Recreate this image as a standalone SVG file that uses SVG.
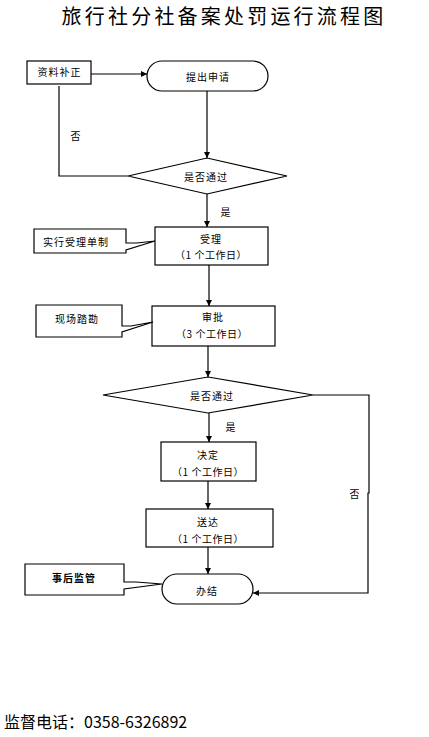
<svg xmlns="http://www.w3.org/2000/svg" width="429" height="737" viewBox="0 0 429 737">
<style>
.s{fill:#fff;stroke:#000;stroke-width:1.2}
.t{font-family:"Noto Sans CJK SC","Liberation Sans",sans-serif;font-size:10px;fill:#000;text-anchor:middle;letter-spacing:1px}
.c{fill:none;stroke:#000;stroke-width:1.2}
</style>
<defs>
<marker id="a" viewBox="0 0 10 10" refX="10" refY="5" markerWidth="6" markerHeight="6" markerUnits="userSpaceOnUse" orient="auto">
<path d="M0,0 L10,5 L0,10 Z" fill="#000"/>
</marker>
</defs>
<rect width="429" height="737" fill="#fff"/>
<text x="224" y="24" style="font-family:'Noto Sans CJK SC','Liberation Sans',sans-serif;font-size:20px;letter-spacing:3.2px;text-anchor:middle;fill:#000">旅行社分社备案处罚运行流程图</text>

<g id="connectors">
<path class="c" d="M91,74 H147" marker-end="url(#a)"/>
<path class="c" d="M207,91 V158" marker-end="url(#a)"/>
<path class="c" d="M59,86 V176 H128"/>
<path class="c" d="M207,194 V227" marker-end="url(#a)"/>
<path class="c" d="M209,265 V306" marker-end="url(#a)"/>
<path class="c" d="M208,346 V377" marker-end="url(#a)"/>
<path class="c" d="M209,413 V442" marker-end="url(#a)"/>
<path class="c" d="M208,481 V509" marker-end="url(#a)"/>
<path class="c" d="M208,547 V574" marker-end="url(#a)"/>
<path class="c" d="M313,395 H369 V493 H368 V593 H253" marker-end="url(#a)"/>
<text class="t" x="76" y="140">否</text>
<text class="t" x="226" y="216">是</text>
<text class="t" x="231" y="431">是</text>
<text class="t" x="355" y="498">否</text>
</g>

<g id="n-buzheng">
<rect class="s" x="27" y="61" width="64" height="23"/>
<text class="t" x="59.5" y="76">资料补正</text>
</g>
<g id="n-shenqing">
<rect class="s" x="147" y="61" width="121" height="30" rx="15"/>
<text class="t" x="208" y="81">提出申请</text>
</g>
<g id="n-pass1">
<path class="s" d="M128,176 L207,158 L287,176 L207,194 Z"/>
<text class="t" x="206" y="181">是否通过</text>
</g>
<g id="n-shouli">
<rect class="s" x="155" y="227" width="113" height="38"/>
<text class="t" x="211" y="243">受理</text>
<text class="t" x="211" y="259" style="letter-spacing:0.5px">（1 个工作日）</text>
</g>
<g id="n-callout1">
<path class="s" d="M34,229 H126 V243 H137 L155,241 L126,250 V253 H34 Z"/>
<text class="t" x="76" y="246">实行受理单制</text>
</g>
<g id="n-shenpi">
<rect class="s" x="152" y="306" width="123" height="40"/>
<text class="t" x="213" y="321">审批</text>
<text class="t" x="212" y="338" style="letter-spacing:0.5px">（3 个工作日）</text>
</g>
<g id="n-callout2">
<path class="s" d="M36,305 H122 V326 H131 L153,322 L122,332 V337 H36 Z"/>
<text class="t" x="77" y="323">现场踏勘</text>
</g>
<g id="n-pass2">
<path class="s" d="M103,395 L208,377 L313,395 L208,413 Z"/>
<text class="t" x="212" y="400">是否通过</text>
</g>
<g id="n-jueding">
<rect class="s" x="161" y="442" width="95" height="39"/>
<text class="t" x="208" y="459">决定</text>
<text class="t" x="208" y="476" style="letter-spacing:0.5px">（1 个工作日）</text>
</g>
<g id="n-songda">
<rect class="s" x="146" y="509" width="127" height="38"/>
<text class="t" x="208" y="526">送达</text>
<text class="t" x="208" y="543" style="letter-spacing:0.5px">（1 个工作日）</text>
</g>
<g id="n-banjie">
<rect class="s" x="162" y="574" width="91" height="30" rx="15"/>
<text class="t" x="207" y="595">办结</text>
</g>
<g id="n-callout3">
<path class="s" d="M25,564 H124 V582 H136 L162,584 L124,589 V595 H25 Z"/>
<text class="t" x="74" y="582" style="font-weight:bold">事后监管</text>
</g>
<text x="4" y="728" style="font-family:'Noto Sans CJK SC','Liberation Sans',sans-serif;font-size:16px;fill:#000">监督电话：0358-6326892</text>
</svg>
